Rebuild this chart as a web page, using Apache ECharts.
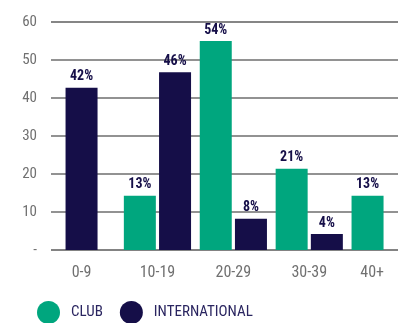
<!DOCTYPE html>
<html>
<head>
<meta charset="utf-8">
<script src="https://cdn.jsdelivr.net/npm/echarts@6/dist/echarts.min.js"></script>
<style>
html,body{margin:0;padding:0;background:#fff;}
#chart{width:399px;height:323px;}
</style>
</head>
<body>
<div id="chart"></div>
<script>
var categories = ['0-9', '10-19', '20-29', '30-39', '40+'];
var clubValues = [null, 14.3, 55, 21.4, 14.3];
var intlValues = [42.7, 46.8, 8.2, 4.2, null];
var clubLabels = ['', '13%', '54%', '21%', '13%'];
var intlLabels = ['42%', '46%', '8%', '4%', ''];
var yTicks = ['-', '10', '20', '30', '40', '50', '60'];

var GREEN = '#00A67E';
var NAVY = '#150E48';
var FONT = "'Liberation Sans Narrow','Roboto Condensed',Roboto,sans-serif";

// categories where only the international bar exists are centred on their slot
var intlGrouped = intlValues.map(function (v, i) { return clubValues[i] == null ? null : v; });
var intlSingle = intlValues.map(function (v, i) { return clubValues[i] == null ? v : null; });

function labelFor(arr) {
  return {
    show: true,
    position: 'top',
    distance: 4,
    color: NAVY,
    fontFamily: FONT,
    fontWeight: 'bold',
    fontSize: 14,
    formatter: function (p) { return arr[p.dataIndex]; }
  };
}

var chart = echarts.init(document.getElementById('chart'), null, { renderer: 'canvas' });
chart.setOption({
  animation: false,
  textStyle: { fontFamily: FONT },
  legend: {
    data: ['CLUB', 'INTERNATIONAL'],
    left: 37,
    top: 301,
    padding: 0,
    icon: 'circle',
    itemWidth: 23,
    itemHeight: 23,
    itemGap: 17,
    textStyle: { color: '#2a2560', fontSize: 15, fontFamily: FONT, padding: [0, 0, 0, 6] }
  },
  grid: [
    { left: 51, right: 1, top: 22, bottom: 73, outerBoundsMode: 'none' },
    { left: 43.6, width: 379.5, top: 22, bottom: 73, outerBoundsMode: 'none' }
  ],
  xAxis: [
    { gridIndex: 0, type: 'value', show: false, min: 0, max: 1 },
    {
      gridIndex: 1, type: 'category',
      data: categories.map(function (c, i) {
        return i === categories.length - 1 ? { value: c, textStyle: { padding: [0, 26, 0, 0] } } : c;
      }),
      axisLine: { show: false }, axisTick: { show: false },
      axisLabel: { color: '#707070', fontSize: 16, fontFamily: FONT, margin: 15 }
    },
    { gridIndex: 1, type: 'category', data: categories, show: false }
  ],
  yAxis: [
    {
      gridIndex: 0, type: 'value', min: 0, max: 60, interval: 10,
      axisLine: { show: false }, axisTick: { show: false },
      axisLabel: {
        color: '#707070', fontSize: 15, fontFamily: FONT, margin: 14,
        formatter: function (v) { return yTicks[Math.round(v / 10)]; }
      },
      splitLine: { lineStyle: { color: ['#5a5a5a', '#6e6e6e', '#6e6e6e', '#6e6e6e', '#6e6e6e', '#6e6e6e', '#5e5e5e'], width: 1.5 } }
    },
    { gridIndex: 1, type: 'value', min: 0, max: 60, show: false }
  ],
  series: [
    {
      name: 'CLUB', type: 'bar', xAxisIndex: 1, yAxisIndex: 1,
      data: clubValues, barWidth: 32, barGap: '10%',
      itemStyle: { color: GREEN }, label: labelFor(clubLabels)
    },
    {
      name: 'INTERNATIONAL', type: 'bar', xAxisIndex: 1, yAxisIndex: 1,
      data: intlGrouped, barWidth: 32, barGap: '10%',
      itemStyle: { color: NAVY }, label: labelFor(intlLabels)
    },
    {
      name: 'INTERNATIONAL', type: 'bar', xAxisIndex: 2, yAxisIndex: 1,
      data: intlSingle, barWidth: 32,
      itemStyle: { color: NAVY }, label: labelFor(intlLabels)
    }
  ]
});
</script>
</body>
</html>
